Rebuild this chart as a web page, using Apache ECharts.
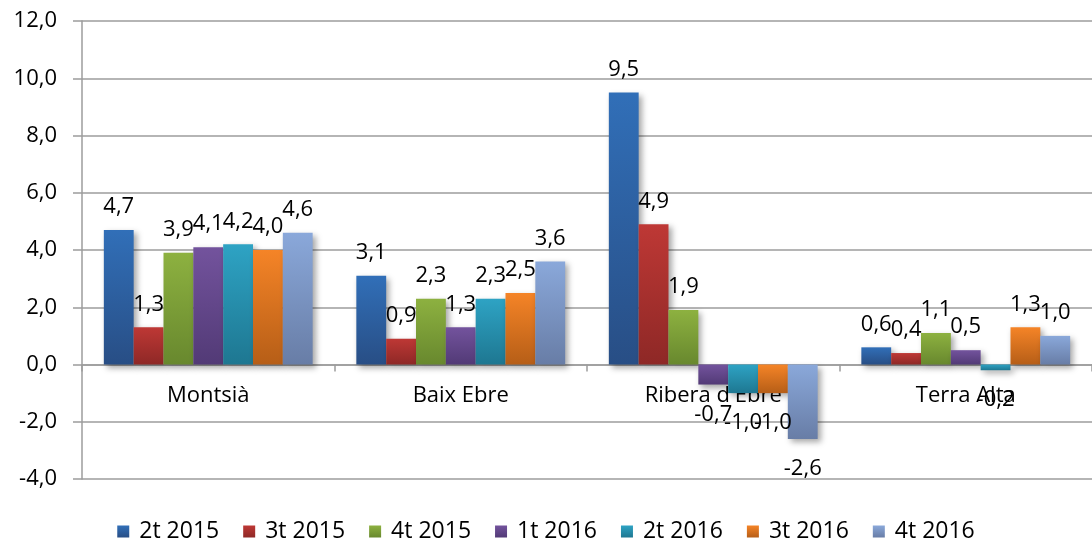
<!DOCTYPE html>
<html>
<head>
<meta charset="utf-8">
<script src="https://cdn.jsdelivr.net/npm/echarts@6/dist/echarts.min.js"></script>
<style>html,body{margin:0;padding:0;background:#fff;}#c{width:1092px;height:548px;}</style>
</head>
<body>
<div id="c"></div>
<script>
const categories = ["Montsià", "Baix Ebre", "Ribera d'Ebre", "Terra Alta"];
const seriesNames = ["2t 2015", "3t 2015", "4t 2015", "1t 2016", "2t 2016", "3t 2016", "4t 2016"];
const s2t2015 = [4.7, 3.1, 9.5, 0.6];
const s3t2015 = [1.3, 0.9, 4.9, 0.4];
const s4t2015 = [3.9, 2.3, 1.9, 1.1];
const s1t2016 = [4.1, 1.3, -0.7, 0.5];
const s2t2016 = [4.2, 2.3, -1.0, -0.2];
const s3t2016 = [4.0, 2.5, -1.0, 1.3];
const s4t2016 = [4.6, 3.6, -2.6, 1.0];
const seriesValues = [s2t2015, s3t2015, s4t2015, s1t2016, s2t2016, s3t2016, s4t2016];
const yMin = -4, yMax = 12, yInterval = 2;

const colorPairs = [
  ["#316fb8", "#284e85"],
  ["#be3835", "#8e2826"],
  ["#8db140", "#68882e"],
  ["#73539d", "#523a76"],
  ["#2ea3c4", "#1e7791"],
  ["#f58427", "#b65e17"],
  ["#8aa8da", "#687da6"]
];
const FONT = "'Open Sans', 'Noto Sans', sans-serif";
const fmt = v => v.toFixed(1).replace('.', ',');
const gridColor = '#9c9c9c';
const GRID_TOP = 21, GRID_H = 458;

const chart = echarts.init(document.getElementById('c'), null, {renderer: 'canvas'});
const series = seriesNames.map((name, i) => ({
  name: name,
  type: 'bar',
  barGap: '0%',
  barCategoryGap: '17.3%',
  itemStyle: {
    color: new echarts.graphic.LinearGradient(0, 0, 0, 1, [
      {offset: 0, color: colorPairs[i][0]},
      {offset: 1, color: colorPairs[i][1]}
    ]),
    shadowBlur: 6,
    shadowColor: 'rgba(0,0,0,0.35)',
    shadowOffsetX: 3,
    shadowOffsetY: 3
  },
  label: {
    show: true,
    position: 'top',
    distance: 12,
    color: '#000',
    fontFamily: FONT,
    fontSize: 22,
    formatter: p => fmt(p.value)
  },
  data: seriesValues[i].map(v => v < 0 ? {value: v, label: {position: 'bottom', distance: 19}} : v)
}));

// distance from grid bottom to the zero line, via the value scale
const zeroOffset = GRID_H * (0 - yMin) / (yMax - yMin);

chart.setOption({
  animation: false,
  backgroundColor: '#fff',
  color: colorPairs.map(c => c[0]),
  grid: {left: 82, top: GRID_TOP, width: 1016, height: GRID_H, containLabel: false},
  legend: {
    bottom: 0,
    left: 'center',
    itemWidth: 12,
    itemHeight: 12,
    itemGap: 24,
    icon: 'rect',
    textStyle: {fontFamily: FONT, fontSize: 23, color: '#000', padding: [0, 0, 0, 5]},
    data: seriesNames
  },
  xAxis: {
    type: 'category',
    data: categories,
    position: 'bottom',
    offset: -zeroOffset,
    axisLine: {show: true, onZero: false, lineStyle: {color: gridColor, width: 1.5}},
    axisTick: {show: true, length: 7, lineStyle: {color: gridColor, width: 1.5}},
    axisLabel: {color: '#000', fontFamily: FONT, fontSize: 22, margin: 20, interval: 0},
    splitLine: {show: false}
  },
  yAxis: {
    type: 'value',
    min: yMin,
    max: yMax,
    interval: yInterval,
    axisLine: {show: true, lineStyle: {color: gridColor, width: 1.5}},
    axisTick: {show: true, length: 9, lineStyle: {color: gridColor, width: 1.5}},
    axisLabel: {color: '#000', fontFamily: FONT, fontSize: 22, margin: 25, formatter: v => fmt(v)},
    splitLine: {show: true, lineStyle: {color: gridColor, width: 1.5}}
  },
  series: series
});
</script>
</body>
</html>
